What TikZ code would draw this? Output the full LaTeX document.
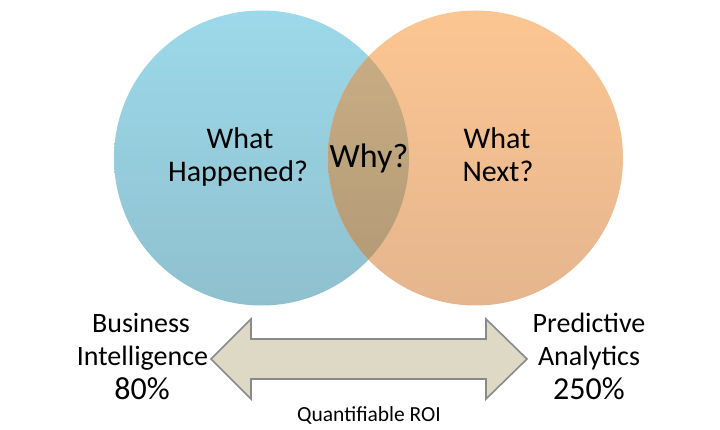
\documentclass[tikz,border=0pt]{standalone}
\usepackage{fontspec}
\setmainfont{Carlito}
\definecolor{blueTop}{RGB}{156,217,234}
\definecolor{blueBot}{RGB}{143,192,206}
\definecolor{orTop}{RGB}{252,198,146}
\definecolor{orBot}{RGB}{229,181,142}
\definecolor{midTop}{RGB}{204,176,134}
\definecolor{midBot}{RGB}{176,152,116}
\definecolor{arrFill}{RGB}{221,217,196}
\definecolor{arrLine}{RGB}{138,138,138}
\tikzset{
  lbl/.style={anchor=base, font=\fontsize{30}{33}\selectfont, text=black, inner sep=0pt},
  sidelbl/.style={anchor=base, font=\fontsize{28}{32}\selectfont, text=black, inner sep=0pt},
  pctlbl/.style={sidelbl, font=\fontsize{32}{36}\selectfont},
}
\begin{document}
\begin{tikzpicture}[x=1pt,y=-1pt]
\useasboundingbox (0,0) rectangle (720,430);
% circles
\shade[top color=blueTop, bottom color=blueBot] (261.5,158) circle (147.5);
\shade[top color=orTop, bottom color=orBot] (475.5,158) circle (147.5);
\begin{scope}
  \clip (261.5,158) circle (147.5);
  \shade[top color=midTop, bottom color=midBot] (475.5,158) circle (147.5);
\end{scope}
% labels
\node[lbl] (wh1) at (240,149) {What};
\node[lbl] (wh2) at (238,182) {Happened?};
\node[lbl, font=\fontsize{34}{36}\selectfont] (why) at (369,168) {Why?};
\node[lbl] (wn1) at (497,149) {What};
\node[lbl] (wn2) at (498,182) {Next?};
% double arrow
\draw[fill=arrFill, draw=arrLine, line width=1.6pt, line join=miter]
  (211,359) -- (251,319) -- (251,339) -- (486,339) -- (486,319) -- (527,359)
  -- (486,399) -- (486,379) -- (251,379) -- (251,399) -- cycle;
\node[sidelbl] (bi1) at (141,332) {Business};
\node[sidelbl] (bi2) at (142.5,365) {Intelligence};
\node[pctlbl] (bi3) at (142,399) {80\%};
\node[sidelbl] (pa1) at (589,332) {Predictive};
\node[sidelbl] (pa2) at (589,365) {Analytics};
\node[pctlbl] (pa3) at (589,399) {250\%};
\node[anchor=base, inner sep=0pt, font=\fontsize{21.5}{24}\selectfont] (roi) at (369,421) {Quantifiable ROI};
\end{tikzpicture}
\end{document}
